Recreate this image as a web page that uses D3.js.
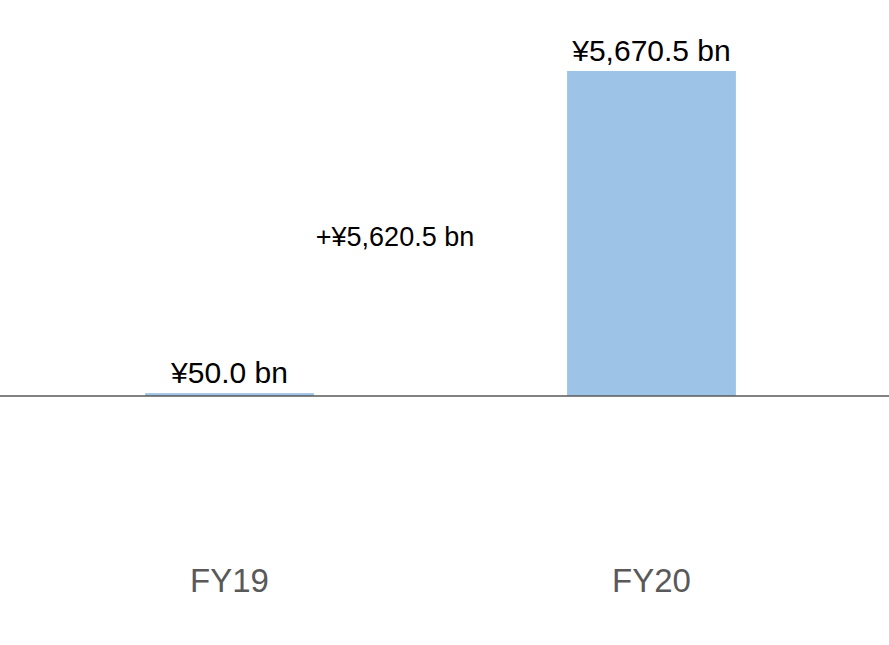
<!DOCTYPE html>
<html><head><meta charset="utf-8">
<script src="https://cdn.jsdelivr.net/npm/d3@7"></script>
<style>body{margin:0;background:#fff}</style></head>
<body><svg id="c" width="889" height="645"></svg>
<script>
const categories = ["FY19", "FY20"];
const values = [50.0, 5670.5];
const valueLabels = ["¥50.0 bn", "¥5,670.5 bn"];
const changeLabel = "+¥5,620.5 bn";

const svg = d3.select("#c");
const x = d3.scaleBand().domain(categories).range([18.5, 862.5]).paddingInner(0.6).paddingOuter(0.3);
const y = d3.scaleLinear().domain([0, 5670.5]).range([396, 71]);

svg.selectAll("rect").data(values).join("rect")
  .attr("x", (d,i) => x(categories[i])).attr("width", x.bandwidth())
  .attr("y", d => y(d)).attr("height", d => y(0) - y(d))
  .attr("fill", "#9DC3E6");

svg.append("line").attr("x1", 0).attr("x2", 889).attr("y1", y(0)).attr("y2", y(0))
  .attr("stroke", "#595959").attr("stroke-width", 1.3);

svg.selectAll(".vl").data(values).join("text").attr("class","vl")
  .attr("x", (d,i) => x(categories[i]) + x.bandwidth()/2)
  .attr("y", d => y(d) - 10)
  .attr("text-anchor", "middle").attr("font-family", "Liberation Sans, Arial, sans-serif")
  .attr("font-size", 30).attr("fill", "#000").text((d,i) => valueLabels[i]);

svg.append("text").attr("x", 395).attr("y", 246).attr("text-anchor", "middle")
  .attr("font-family", "Liberation Sans, Arial, sans-serif").attr("font-size", 27)
  .attr("fill", "#000").text(changeLabel);

svg.selectAll(".cl").data(categories).join("text").attr("class","cl")
  .attr("x", d => x(d) + x.bandwidth()/2).attr("y", 592)
  .attr("text-anchor", "middle").attr("font-family", "Liberation Sans, Arial, sans-serif")
  .attr("font-size", 33).attr("fill", "#595959").text(d => d);
</script></body></html>
